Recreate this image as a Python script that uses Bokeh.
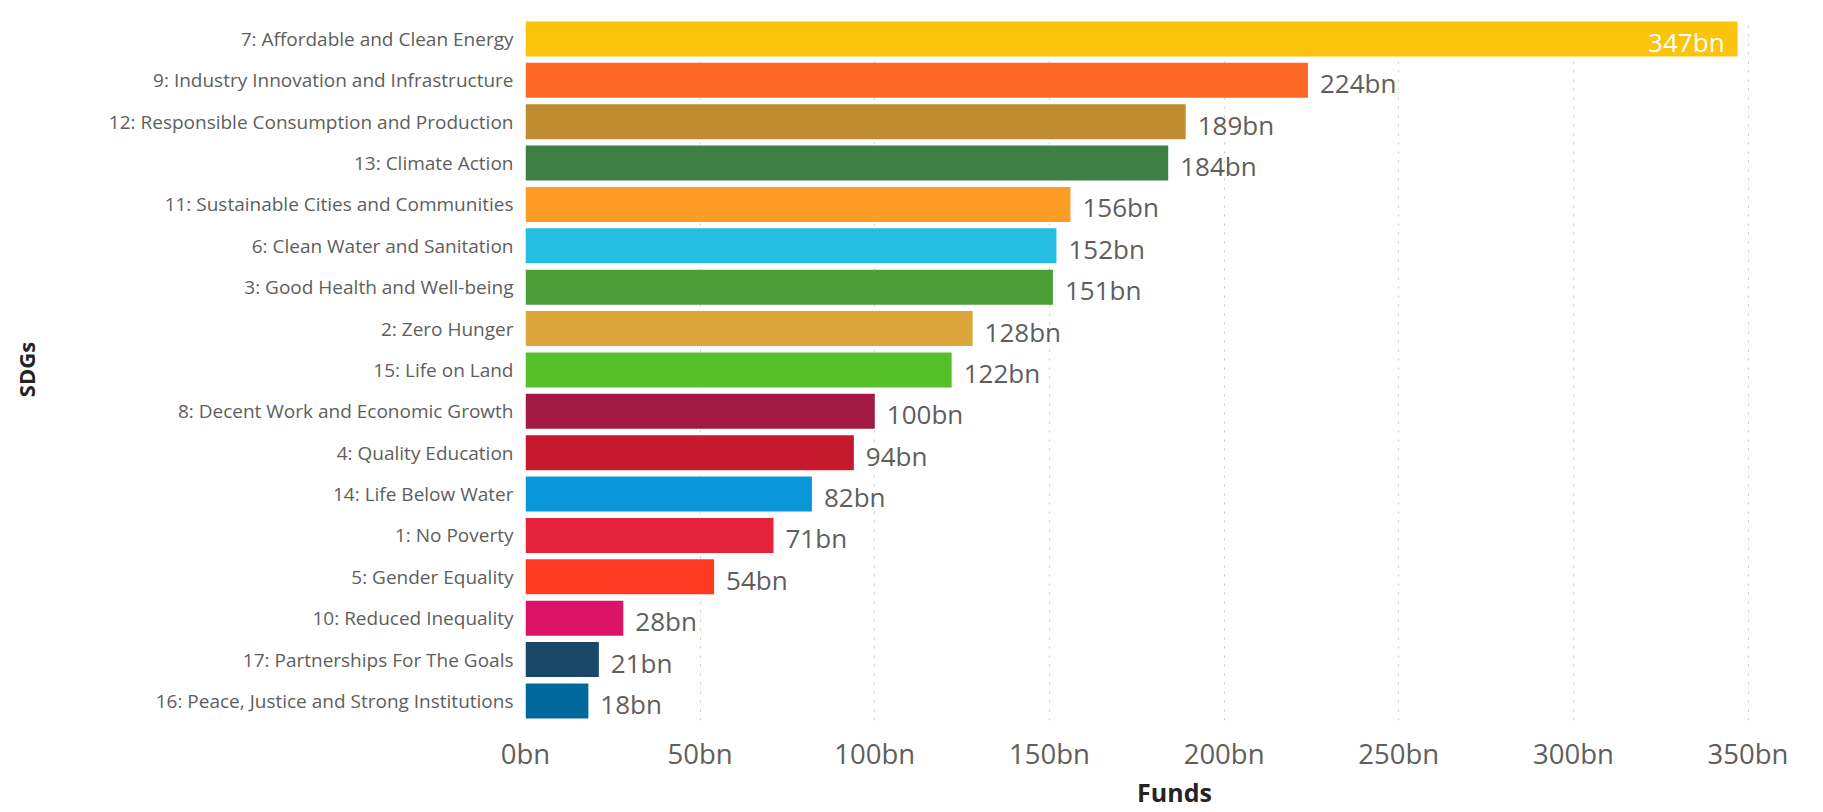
from bokeh.plotting import figure
from bokeh.models import ColumnDataSource, Range1d, FixedTicker
from bokeh.core.properties import value
from bokeh.embed import file_html
from bokeh.resources import INLINE

sdgs = [
    "7: Affordable and Clean Energy",
    "9: Industry Innovation and Infrastructure",
    "12: Responsible Consumption and Production",
    "13: Climate Action",
    "11: Sustainable Cities and Communities",
    "6: Clean Water and Sanitation",
    "3: Good Health and Well-being",
    "2: Zero Hunger",
    "15: Life on Land",
    "8: Decent Work and Economic Growth",
    "4: Quality Education",
    "14: Life Below Water",
    "1: No Poverty",
    "5: Gender Equality",
    "10: Reduced Inequality",
    "17: Partnerships For The Goals",
    "16: Peace, Justice and Strong Institutions",
]
funds = [347, 224, 189, 184, 156, 152, 151, 128, 122, 100, 94, 82, 71, 54, 28, 21, 18]
colors = [
    "#FCC30B", "#FD6925", "#BF8B2E", "#3F7E44", "#FD9D24", "#26BDE2",
    "#4C9F38", "#DDA63A", "#56C02B", "#A21942", "#C5192D", "#0A97D9",
    "#E5243B", "#FF3A21", "#DD1367", "#19486A", "#00689D",
]
value_labels = [f"{v}bn" for v in funds]
tick_values = [0, 50, 100, 150, 200, 250, 300, 350]
tick_labels = ["0bn", "50bn", "100bn", "150bn", "200bn", "250bn", "300bn", "350bn"]

FONT = "Open Sans"
LABEL_GREY = "#605E5C"

# category positions: first category at the top
n = len(sdgs)
ypos = [n - 1 - i for i in range(n)]

src = ColumnDataSource(dict(y=ypos, funds=funds, color=colors, label=value_labels))
vmax = max(funds)
inside = [i for i, v in enumerate(funds) if v == vmax]
outside = [i for i, v in enumerate(funds) if v != vmax]
src_in = ColumnDataSource(dict(y=[ypos[i] for i in inside], funds=[funds[i] for i in inside],
                               label=[value_labels[i] for i in inside]))
src_out = ColumnDataSource(dict(y=[ypos[i] for i in outside], funds=[funds[i] for i in outside],
                                label=[value_labels[i] for i in outside]))

p = figure(
    width=1823, height=812,
    y_range=Range1d(-0.472, n - 1 + 0.493),
    x_range=Range1d(0, 371.6),
    output_backend="svg", toolbar_location=None,
    min_border_left=525, min_border_right=0, min_border_top=18, min_border_bottom=92,
)
p.outline_line_color = None
p.background_fill_color = "white"
p.border_fill_color = "white"

p.hbar(y="y", left=0, right="funds", height=0.845, fill_color="color", line_color=None, source=src)

p.text(x="funds", y="y", text="label", source=src_out, x_offset=12, y_offset=3,
       text_align="left", text_baseline="middle", text_font=value(FONT),
       text_font_size="26px", text_color=LABEL_GREY)
p.text(x="funds", y="y", text="label", source=src_in, x_offset=-13, y_offset=3,
       text_align="right", text_baseline="middle", text_font=value(FONT),
       text_font_size="26px", text_color="white")

# x axis
p.xaxis.ticker = FixedTicker(ticks=tick_values)
p.xaxis.major_label_overrides = {t: l for t, l in zip(tick_values, tick_labels)}
p.xaxis.axis_line_color = None
p.xaxis.major_tick_line_color = None
p.xaxis.minor_tick_line_color = None
p.xaxis.major_tick_out = 0
p.xaxis.major_tick_in = 0
p.xaxis.minor_tick_out = 0
p.xaxis.major_label_text_font = FONT
p.xaxis.major_label_text_font_size = "27.5px"
p.xaxis.major_label_text_color = LABEL_GREY
p.xaxis.major_label_standoff = 14
p.xaxis.axis_label = "Funds"
p.xaxis.axis_label_text_font = FONT
p.xaxis.axis_label_text_font_style = "bold"
p.xaxis.axis_label_text_font_size = "25px"
p.xaxis.axis_label_text_color = "#252423"
p.xaxis.axis_label_standoff = 0

# y axis
p.yaxis.ticker = FixedTicker(ticks=ypos)
p.yaxis.major_label_overrides = {y: s for y, s in zip(ypos, sdgs)}
p.yaxis.axis_line_color = None
p.yaxis.major_tick_line_color = None
p.yaxis.minor_tick_line_color = None
p.yaxis.major_tick_out = 0
p.yaxis.major_tick_in = 0
p.yaxis.minor_tick_out = 0
p.yaxis.major_label_text_font = FONT
p.yaxis.major_label_text_font_size = "19px"
p.yaxis.major_label_text_color = LABEL_GREY
p.yaxis.major_label_standoff = 12
p.yaxis.axis_label = "SDGs"
p.yaxis.axis_label_text_font = FONT
p.yaxis.axis_label_text_font_style = "bold"
p.yaxis.axis_label_text_font_size = "22px"
p.yaxis.axis_label_text_color = "#252423"
p.yaxis.axis_label_standoff = 65

p.ygrid.grid_line_color = None
p.xgrid.grid_line_color = "#C8C8C8"
p.xgrid.grid_line_dash = "2 7"
p.xgrid.grid_line_width = 1

open("out.html", "w").write(file_html(p, INLINE))
